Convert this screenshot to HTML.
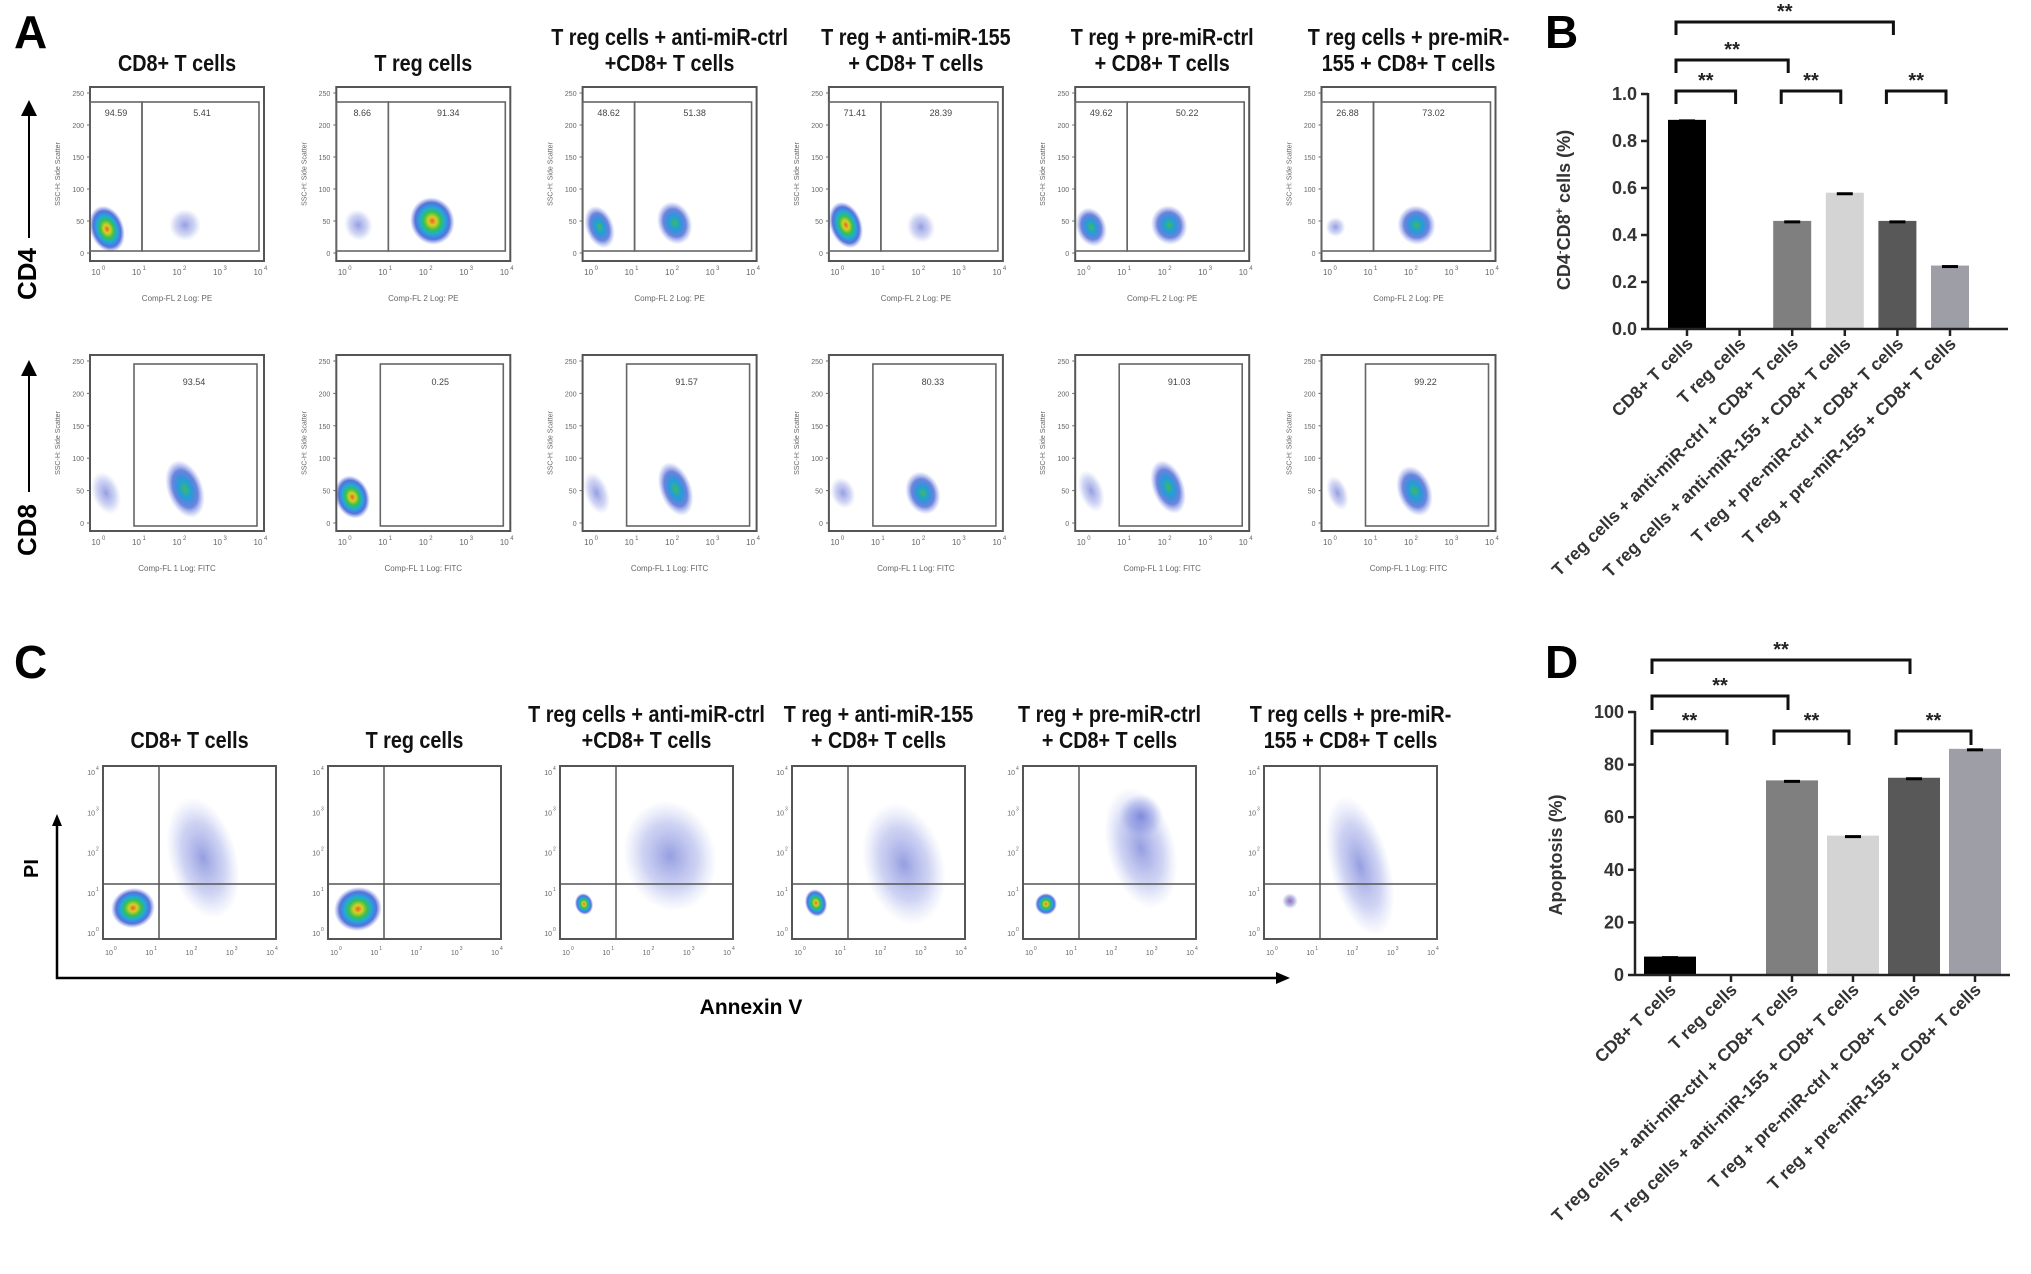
<!DOCTYPE html>
<html><head><meta charset="utf-8"><style>
html,body{margin:0;padding:0;background:#fff;}
svg{display:block;font-family:"Liberation Sans",Arial,sans-serif;}
</style></head><body>
<svg id="fig" width="2031" height="1274" viewBox="0 0 2031 1274" xmlns="http://www.w3.org/2000/svg">
<defs>
<radialGradient id="hot" cx="50%" cy="50%" r="50%">
<stop offset="0%" stop-color="#e8602a"/><stop offset="18%" stop-color="#d8d020"/><stop offset="38%" stop-color="#38c050"/><stop offset="58%" stop-color="#20a8e0"/><stop offset="78%" stop-color="#3050d0" stop-opacity="0.8"/><stop offset="100%" stop-color="#6070e0" stop-opacity="0"/>
</radialGradient>
<radialGradient id="mid" cx="50%" cy="50%" r="50%">
<stop offset="0%" stop-color="#40b860"/><stop offset="30%" stop-color="#20a0d8"/><stop offset="65%" stop-color="#3050d0" stop-opacity="0.7"/><stop offset="100%" stop-color="#7080e0" stop-opacity="0"/>
</radialGradient>
<radialGradient id="faint" cx="50%" cy="50%" r="50%">
<stop offset="0%" stop-color="#4050c8" stop-opacity="0.55"/><stop offset="60%" stop-color="#6070d8" stop-opacity="0.3"/><stop offset="100%" stop-color="#8090e0" stop-opacity="0"/>
</radialGradient>
<radialGradient id="purp" cx="50%" cy="50%" r="50%">
<stop offset="0%" stop-color="#8040a0" stop-opacity="0.8"/><stop offset="60%" stop-color="#6060c0" stop-opacity="0.4"/><stop offset="100%" stop-color="#8090e0" stop-opacity="0"/>
</radialGradient>
<marker id="arr" markerWidth="8" markerHeight="8" refX="4" refY="4" orient="auto"><path d="M0,0 L8,4 L0,8 z" fill="#000"/></marker>
</defs>
<text x="14" y="48" font-size="46" font-weight="bold">A</text>
<text x="14" y="678" font-size="46" font-weight="bold">C</text>
<text x="1545" y="48" font-size="46" font-weight="bold">B</text>
<text x="1545" y="678" font-size="46" font-weight="bold">D</text>
<line x1="29" y1="238" x2="29" y2="108" stroke="#000" stroke-width="2" marker-end="url(#arr)"/>
<text transform="translate(36,300) rotate(-90)" font-size="26" font-weight="bold">CD4</text>
<line x1="29" y1="492" x2="29" y2="368" stroke="#000" stroke-width="2" marker-end="url(#arr)"/>
<text transform="translate(36,556) rotate(-90)" font-size="26" font-weight="bold">CD8</text>
<text transform="translate(38,878) rotate(-90)" font-size="20" font-weight="bold">PI</text>
<polyline points="57,824 57,978 1280,978" fill="none" stroke="#000" stroke-width="2.5"/>
<path d="M52,826 L57,814 L62,826 z" fill="#000"/>
<path d="M1276,972 L1290,978 L1276,984 z" fill="#000"/>
<text x="751" y="1014" font-size="21" font-weight="bold" text-anchor="middle">Annexin V</text>
<g id="layer"></g>
</svg>
<script>
const NS="http://www.w3.org/2000/svg";
const layer=document.getElementById('layer');
function el(tag,attrs,parent){const e=document.createElementNS(NS,tag);for(const k in attrs)e.setAttribute(k,attrs[k]);(parent||layer).appendChild(e);return e;}

const titles=[["CD8+ T cells"],["T reg cells"],["T reg cells + anti-miR-ctrl","+CD8+ T cells"],["T reg + anti-miR-155","+ CD8+ T cells"],["T reg + pre-miR-ctrl","+ CD8+ T cells"],["T reg cells + pre-miR-","155 + CD8+ T cells"]];
function title(cx,yBottom,lines,name){
  const g=el('g',{transform:`translate(${cx},0) scale(0.86,1)`});
  
  
  lines.forEach((l,i)=>{const t=el('text',{x:0,y:yBottom-(lines.length-1-i)*26,'font-size':23,'font-weight':'bold','text-anchor':'middle',fill:'#111'},g);t.textContent=l;});
}

const aRow1Nums=[["94.59","5.41"],["8.66","91.34"],["48.62","51.38"],["71.41","28.39"],["49.62","50.22"],["26.88","73.02"]];
const aRow2Nums=["93.54","0.25","91.57","80.33","91.03","99.22"];
const aRow1Cl=[[[17,142,17,24,'hot'],[95,138,16,16,'faint']],[[22,138,14,16,'faint'],[96,134,22,24,'hot']],[[17,140,14,22,'mid'],[92,136,17,22,'mid']],[[17,138,16,24,'hot'],[92,140,14,16,'faint']],[[16,140,15,20,'mid'],[94,138,18,20,'mid']],[[14,140,10,10,'faint'],[95,138,19,20,'mid']]];
const aRow2Cl=[[[16,138,14,22,'faint'],[95,134,18,30,'mid']],[[16,142,17,22,'hot']],[[14,138,12,22,'faint'],[93,134,16,28,'mid']],[[14,138,12,16,'faint'],[94,138,17,22,'mid']],[[16,136,12,22,'faint'],[93,132,16,28,'mid']],[[16,138,10,18,'faint'],[93,136,17,26,'mid']]];
const yTicksA=["250","200","150","100","50","0"];
const xTicksLog=["0","1","2","3","4"];

for(let i=0;i<6;i++){
  const x0=90+i*246.3;
  title(x0+87,71,titles[i],'a-title-'+(i+1));
  [[87,174,1],[355,176,2]].forEach(([y0,h,row])=>{
    const w=174;
    const g=el('g',{});
    
    
    const cl=row===1?aRow1Cl[i]:aRow2Cl[i];
    cl.forEach(c=>el('ellipse',{cx:x0+c[0],cy:y0+c[1],rx:c[2],ry:c[3],fill:`url(#${c[4]})`,transform:`rotate(-20 ${x0+c[0]} ${y0+c[1]})`},g));
    el('rect',{x:x0,y:y0,width:w,height:h,fill:'none',stroke:'#555','stroke-width':2},g);
    if(row===1){
      el('rect',{x:x0,y:y0+15,width:52,height:h-25,fill:'none',stroke:'#666','stroke-width':1.6},g);
      el('rect',{x:x0+52,y:y0+15,width:w-57,height:h-25,fill:'none',stroke:'#666','stroke-width':1.6},g);
      const n1=el('text',{x:x0+26,y:y0+29,'font-size':9,'text-anchor':'middle',fill:'#444'},g);n1.textContent=aRow1Nums[i][0];
      const n2=el('text',{x:x0+112,y:y0+29,'font-size':9,'text-anchor':'middle',fill:'#444'},g);n2.textContent=aRow1Nums[i][1];
    }else{
      el('rect',{x:x0+44,y:y0+9,width:123,height:h-14,fill:'none',stroke:'#666','stroke-width':1.6},g);
      const n=el('text',{x:x0+104,y:y0+30,'font-size':9,'text-anchor':'middle',fill:'#444'},g);n.textContent=aRow2Nums[i];
    }
    yTicksA.forEach((t,k)=>{const yy=y0+6+k*(h-14)/5;const tt=el('text',{x:x0-6,y:yy+3,'font-size':7,'text-anchor':'end',fill:'#666'},g);tt.textContent=t;el('line',{x1:x0-3,y1:yy,x2:x0,y2:yy,stroke:'#666'},g);});
    xTicksLog.forEach((t,k)=>{const xx=x0+6+k*(w-12)/4;const tt=el('text',{x:xx,y:y0+h+14,'font-size':8,'text-anchor':'middle',fill:'#666'},g);tt.textContent='10';const s=el('text',{x:xx+6,y:y0+h+9,'font-size':6,fill:'#666'},g);s.textContent=t;});
    const ax=el('text',{x:x0+w/2,y:y0+h+40,'font-size':8,'text-anchor':'middle',fill:'#666'},g);ax.textContent=row===1?'Comp-FL 2 Log: PE':'Comp-FL 1 Log: FITC';
    const ay=el('text',{transform:`translate(${x0-30},${y0+h/2}) rotate(-90)`,'font-size':7,'text-anchor':'middle',fill:'#666'},g);ay.textContent='SSC-H: Side Scatter';
  });
}

const cLefts=[103,328,560,792,1023,1264];
const cCl=[[[100,92,34,62,'faint'],[30,142,22,20,'hot']],[[30,143,24,22,'hot']],[[110,90,46,56,'faint'],[24,138,9,11,'hot']],[[112,98,40,62,'faint'],[24,137,11,14,'hot']],[[118,82,34,62,'faint'],[118,50,22,22,'faint'],[23,138,11,11,'hot']],[[96,100,30,72,'faint'],[26,135,8,8,'purp']]];
const cTicks=["0","1","2","3","4"];
for(let i=0;i<6;i++){
  const x0=cLefts[i],y0=766,w=173,h=173;
  title(x0+w/2,748,titles[i],'c-title-'+(i+1));
  const g=el('g',{});
  
  
  cCl[i].forEach(c=>el('ellipse',{cx:x0+c[0],cy:y0+c[1],rx:c[2],ry:c[3],fill:`url(#${c[4]})`,transform:`rotate(-15 ${x0+c[0]} ${y0+c[1]})`},g));
  el('rect',{x:x0,y:y0,width:w,height:h,fill:'none',stroke:'#555','stroke-width':2},g);
  el('line',{x1:x0+56,y1:y0,x2:x0+56,y2:y0+h,stroke:'#555','stroke-width':1.5},g);
  el('line',{x1:x0,y1:y0+118,x2:x0+w,y2:y0+118,stroke:'#555','stroke-width':1.5},g);
  cTicks.forEach((t,k)=>{
    const yy=y0+h-6-k*(h-12)/4;
    const a=el('text',{x:x0-8,y:yy+3,'font-size':7,'text-anchor':'end',fill:'#666'},g);a.textContent='10';
    const b=el('text',{x:x0-7,y:yy-2,'font-size':5,fill:'#666'},g);b.textContent=t;
    const xx=x0+6+k*(w-12)/4;
    const c=el('text',{x:xx,y:y0+h+16,'font-size':7,'text-anchor':'middle',fill:'#666'},g);c.textContent='10';
    const d=el('text',{x:xx+5,y:y0+h+11,'font-size':5,fill:'#666'},g);d.textContent=t;
  });
}

const barCategories=["CD8+ T cells","T reg cells","T reg cells + anti-miR-ctrl + CD8+ T cells","T reg cells + anti-miR-155 + CD8+ T cells","T reg + pre-miR-ctrl + CD8+ T cells","T reg + pre-miR-155 + CD8+ T cells"];
const barColors=["#000000","#ffffff","#7f7f7f","#d4d4d4","#585858","#9e9ea6"];
const bValues=[0.89,0.0,0.46,0.58,0.46,0.27];
const bTicks=[0,0.2,0.4,0.6,0.8,1.0];
const dValues=[7,0.3,74,53,75,86];
const dTicks=[0,20,40,60,80,100];
const brackets=[[0,1,0],[2,3,0],[4,5,0],[0,2,1],[0,4,2]];

function barChart(o){
  const g=el('g',{});
  
  
  const yS=v=>o.y0-(v-o.min)/(o.max-o.min)*(o.y0-o.y1);
  const xS=i=>o.c0+i*o.step;
  o.values.forEach((v,i)=>{
    const r=el('rect',{x:xS(i)-o.bw/2,y:yS(v),width:o.bw,height:Math.max(0,o.y0-yS(v)),fill:barColors[i]},g);
    
    
    if(v>0.01*o.max){el('line',{x1:xS(i)-8,y1:yS(v)+1,x2:xS(i)+8,y2:yS(v)+1,stroke:'#000','stroke-width':3},g);}
  });
  el('line',{x1:o.ax,y1:o.y1-1,x2:o.ax,y2:o.y0,stroke:'#222','stroke-width':2.5},g);
  el('line',{x1:o.ax,y1:o.y0,x2:o.axEnd,y2:o.y0,stroke:'#222','stroke-width':2.5},g);
  o.ticks.forEach(t=>{
    const y=yS(t);
    el('line',{x1:o.ax-7,y1:y,x2:o.ax,y2:y,stroke:'#222','stroke-width':2.5},g);
    const tx=el('text',{x:o.ax-11,y:y+6,'font-size':18,'font-weight':'bold','text-anchor':'end',fill:'#333'},g);
    tx.textContent=o.fmt(t);
  });
  barCategories.forEach((c,i)=>{
    el('line',{x1:xS(i),y1:o.y0,x2:xS(i),y2:o.y0+7,stroke:'#222','stroke-width':2.5},g);
    const t=el('text',{transform:`translate(${xS(i)+7},${o.y0+16}) rotate(-44)`,'font-size':17.5,'font-weight':'bold','text-anchor':'end',fill:'#333'},g);
    t.textContent=c;
  });
  const yt=el('text',{transform:`translate(${o.ytx},${o.yty}) rotate(-90)`,'font-size':18,'font-weight':'bold','text-anchor':'middle',fill:'#333'},g);
  if(o.sup){yt.innerHTML='CD4<tspan dy="-7" font-size="11">-</tspan><tspan dy="7">CD8</tspan><tspan dy="-7" font-size="11">+</tspan><tspan dy="7"> cells (%)</tspan>';}
  else yt.textContent=o.ytitle;
  brackets.forEach(([a,b,lv])=>{
    const y=o.brY[lv],x1=xS(a)-o.bw/2+8,x2=xS(b)-4;
    const p=el('polyline',{points:`${x1},${y+o.leg} ${x1},${y} ${x2},${y} ${x2},${y+o.leg}`,fill:'none',stroke:'#111','stroke-width':3},g);
    
    
    const s=el('text',{x:(x1+x2)/2,y:y-4,'font-size':20,'font-weight':'bold','text-anchor':'middle',fill:'#222'},g);
    s.textContent='**';
  });
}
barChart({name:'chart-b',values:bValues,ticks:bTicks,min:0,max:1,y0:329,y1:94,ax:1648,axEnd:2008,c0:1687,step:52.6,bw:38,
  fmt:t=>t.toFixed(1),ytx:1570,yty:210,sup:true,brY:[91,60,22],leg:13});
barChart({name:'chart-d',values:dValues,ticks:dTicks,min:0,max:100,y0:975,y1:712,ax:1635,axEnd:2010,c0:1670,step:61,bw:52,
  fmt:t=>String(t),ytx:1562,yty:855,ytitle:'Apoptosis (%)',brY:[731,696,660],leg:14});
</script>
</body></html>
